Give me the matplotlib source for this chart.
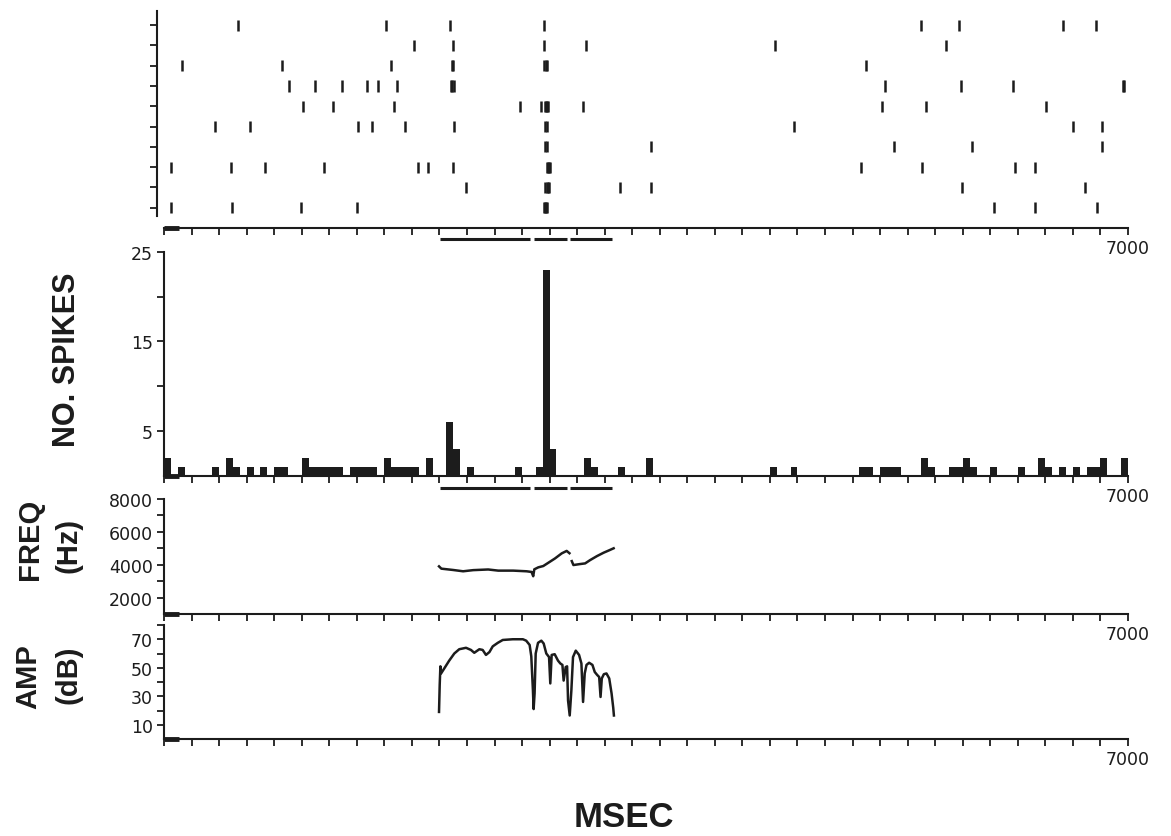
import numpy as np
import matplotlib.pyplot as plt
import matplotlib.transforms as mtransforms

# spike raster, one list per trial (ms), top row first
raster = [
    [535, 1612, 2077, 2760, 5494, 5773, 6528, 6768],
    [1816, 2101, 2760, 3065, 4437, 5679],
    [129, 855, 1646, 2088, 2098, 2762, 2772, 2782, 5094],
    [906, 1094, 1293, 1472, 1554, 1690, 2084, 2094, 2104, 5232, 5787, 6163, 6962, 6972],
    [1009, 1230, 1670, 2585, 2740, 2768, 2776, 2784, 2792, 3041, 5211, 5536, 6401],
    [368, 622, 1407, 1508, 1750, 2108, 2770, 2778, 4573, 6599, 6810],
    [2770, 2778, 3537, 5304, 5866, 6810],
    [51, 484, 736, 1162, 1845, 1919, 2099, 2778, 2786, 2794, 2802, 5059, 5502, 6180, 6327],
    [2193, 2770, 2778, 2786, 2794, 3311, 3537, 5792, 6691],
    [51, 492, 997, 1402, 2760, 2768, 2776, 2784, 6028, 6327, 6775],
]

# PSTH, 50 ms bins (bin start, spike count)
bin_start = [0, 100, 350, 450, 500, 600, 700, 800, 850, 1000,
             1050, 1100, 1150, 1200, 1250, 1350, 1400, 1450, 1500, 1600,
             1650, 1700, 1750, 1800, 1900, 2050, 2100, 2200, 2550, 2700,
             2750, 2800, 3050, 3100, 3300, 3500, 4400, 4550, 5050, 5100,
             5200, 5250, 5300, 5500, 5550, 5700, 5750, 5800, 5850, 6000,
             6200, 6350, 6400, 6500, 6600, 6700, 6750, 6800, 6950]
bin_count = [2, 1, 1, 2, 1, 1, 1, 1, 1, 2,
             1, 1, 1, 1, 1, 1, 1, 1, 1, 2,
             1, 1, 1, 1, 2, 6, 3, 1, 1, 1,
             23, 3, 2, 1, 1, 2, 1, 1, 1, 1,
             1, 1, 1, 2, 1, 1, 1, 2, 1, 1,
             1, 2, 1, 1, 1, 1, 1, 2, 2]
bin_width = 50

# stimulus segments (ms)
stim_on = [2005, 2685, 2950]
stim_off = [2655, 2925, 3250]

# frequency trace, two pieces
freq1_t = [1997, 2014, 2099, 2172, 2245, 2354, 2427, 2536, 2633, 2669, 2681,
           2689, 2718, 2754, 2791, 2839, 2888, 2924, 2944]
freq1_hz = [3900, 3760, 3680, 3600, 3670, 3710, 3640, 3640, 3600, 3560, 3300,
            3720, 3840, 3920, 4120, 4380, 4690, 4840, 4700]
freq2_t = [2961, 2973, 3021, 3058, 3094, 3143, 3192, 3236, 3265]
freq2_hz = [4220, 3980, 4040, 4080, 4280, 4520, 4730, 4890, 5000]

# amplitude trace
amp_t = [1997, 2002, 2007, 2012, 2035, 2071, 2108, 2144, 2193, 2229, 2253, 2290,
         2314, 2338, 2363, 2387, 2424, 2460, 2533, 2606, 2630, 2655, 2667, 2679,
         2684, 2691, 2699, 2716, 2740, 2757, 2776, 2796, 2805, 2815, 2837, 2861,
         2878, 2893, 2902, 2917, 2927, 2934, 2946, 2958, 2970, 2990, 3014, 3031,
         3043, 3055, 3068, 3087, 3111, 3128, 3145, 3160, 3170, 3179, 3194, 3213,
         3233, 3250, 3262, 3267]
amp_db = [19, 38, 51, 46, 49.5, 55, 60, 63, 64, 62.5, 60.5, 63,
          62.5, 59, 61, 65, 67.5, 69.5, 70, 70, 69, 66, 58, 34,
          21, 32, 60, 67.5, 69, 67, 60, 57.5, 39, 59, 59.5, 55,
          53, 52, 41, 50.5, 51, 27, 16.5, 34, 57.5, 62, 59, 53,
          26, 46, 52, 53.5, 52, 47, 45, 43.5, 29.5, 42.5, 45.5, 46,
          42.5, 32, 22, 16.5]

ink = '#1c1c1c'
label_font = 'Liberation Sans'
tick_font = 'DejaVu Sans'

fig = plt.figure(figsize=(11.71, 8.37), dpi=100)
W, H = 1171, 837
left, right = 164, 1128


def make_axes(top, bottom):
    ax = fig.add_axes([left / W, 1 - bottom / H, (right - left) / W, (bottom - top) / H])
    ax.patch.set_visible(False)
    return ax


def style_x(ax):
    for s in ['top', 'right']:
        ax.spines[s].set_visible(False)
    for s in ['left', 'bottom']:
        ax.spines[s].set_color(ink)
        ax.spines[s].set_linewidth(1.5)
    ax.set_xlim(0, 7000)
    ax.set_xticks(np.arange(0, 7001, 200))
    ax.set_xticklabels([''] * 35 + ['7000'])
    ax.tick_params(axis='both', which='both', direction='out', length=5, width=1.3,
                   colors=ink, labelsize=12.5, pad=3)
    for lab in ax.get_xticklabels() + ax.get_yticklabels():
        lab.set_fontfamily(tick_font)
    # thick stub at the origin of each time axis
    ax.plot([0, 110], [0, 0], color=ink, lw=3.5, solid_capstyle='butt',
            transform=mtransforms.blended_transform_factory(ax.transData, ax.transAxes),
            clip_on=False)


def stim_bars(ax, y):
    tr = mtransforms.blended_transform_factory(ax.transData, ax.transAxes)
    ax.hlines([y] * len(stim_on), stim_on, stim_off, colors=ink, lw=2.2,
              transform=tr, clip_on=False)


# raster
ax_r = make_axes(12, 229)
ax_r.eventplot(raster, lineoffsets=np.arange(1, 11), linelengths=0.55,
               linewidths=1.8, colors=ink)
ax_r.set_ylim(11, 0.3)
ax_r.set_yticks(np.arange(1, 11))
ax_r.set_yticklabels([])
style_x(ax_r)
ax_r.spines['left'].set_position(('outward', 5))
ax_r.spines['left'].set_bounds(0.3, 10.4)
stim_bars(ax_r, -11 / 217)

# PSTH
ax_p = make_axes(252.7, 477)
ax_p.bar(bin_start, bin_count, width=bin_width, align='edge', color=ink, linewidth=0)
ax_p.set_ylim(0, 25)
ax_p.set_yticks([5, 10, 15, 20, 25])
ax_p.set_yticklabels(['5', '', '15', '', '25'])
style_x(ax_p)
stim_bars(ax_p, -12 / 224.3)

# frequency
ax_f = make_axes(500, 615)
ax_f.plot(freq1_t, freq1_hz, color=ink, lw=1.8)
ax_f.plot(freq2_t, freq2_hz, color=ink, lw=1.8)
ax_f.set_ylim(1000, 8000)
ax_f.set_yticks([2000, 4000, 6000, 8000])
ax_f.set_yticks([3000, 5000, 7000], minor=True)
style_x(ax_f)

# amplitude
ax_a = make_axes(626, 740)
ax_a.plot(amp_t, amp_db, color=ink, lw=1.8)
ax_a.set_ylim(0, 80)
ax_a.set_yticks([10, 30, 50, 70])
ax_a.set_yticks([20, 40, 60, 80], minor=True)
style_x(ax_a)

# axis titles
kw = dict(family=label_font, weight='bold', color=ink, rotation=90,
          ha='center', va='center')
fig.text(67 / W, 1 - 360 / H, 'NO. SPIKES', fontsize=22, **kw)
fig.text(30 / W, 1 - 539 / H, 'FREQ', fontsize=21, **kw)
fig.text(68 / W, 1 - 545 / H, '(Hz)', fontsize=21, **kw)
fig.text(28 / W, 1 - 677 / H, 'AMP', fontsize=21, **kw)
fig.text(68 / W, 1 - 675 / H, '(dB)', fontsize=21, **kw)
fig.text(624 / W, 1 - 818 / H, 'MSEC', family=label_font, weight='bold',
         color=ink, fontsize=25, ha='center', va='center')

fig.savefig('out.png', dpi=100, facecolor='white')
